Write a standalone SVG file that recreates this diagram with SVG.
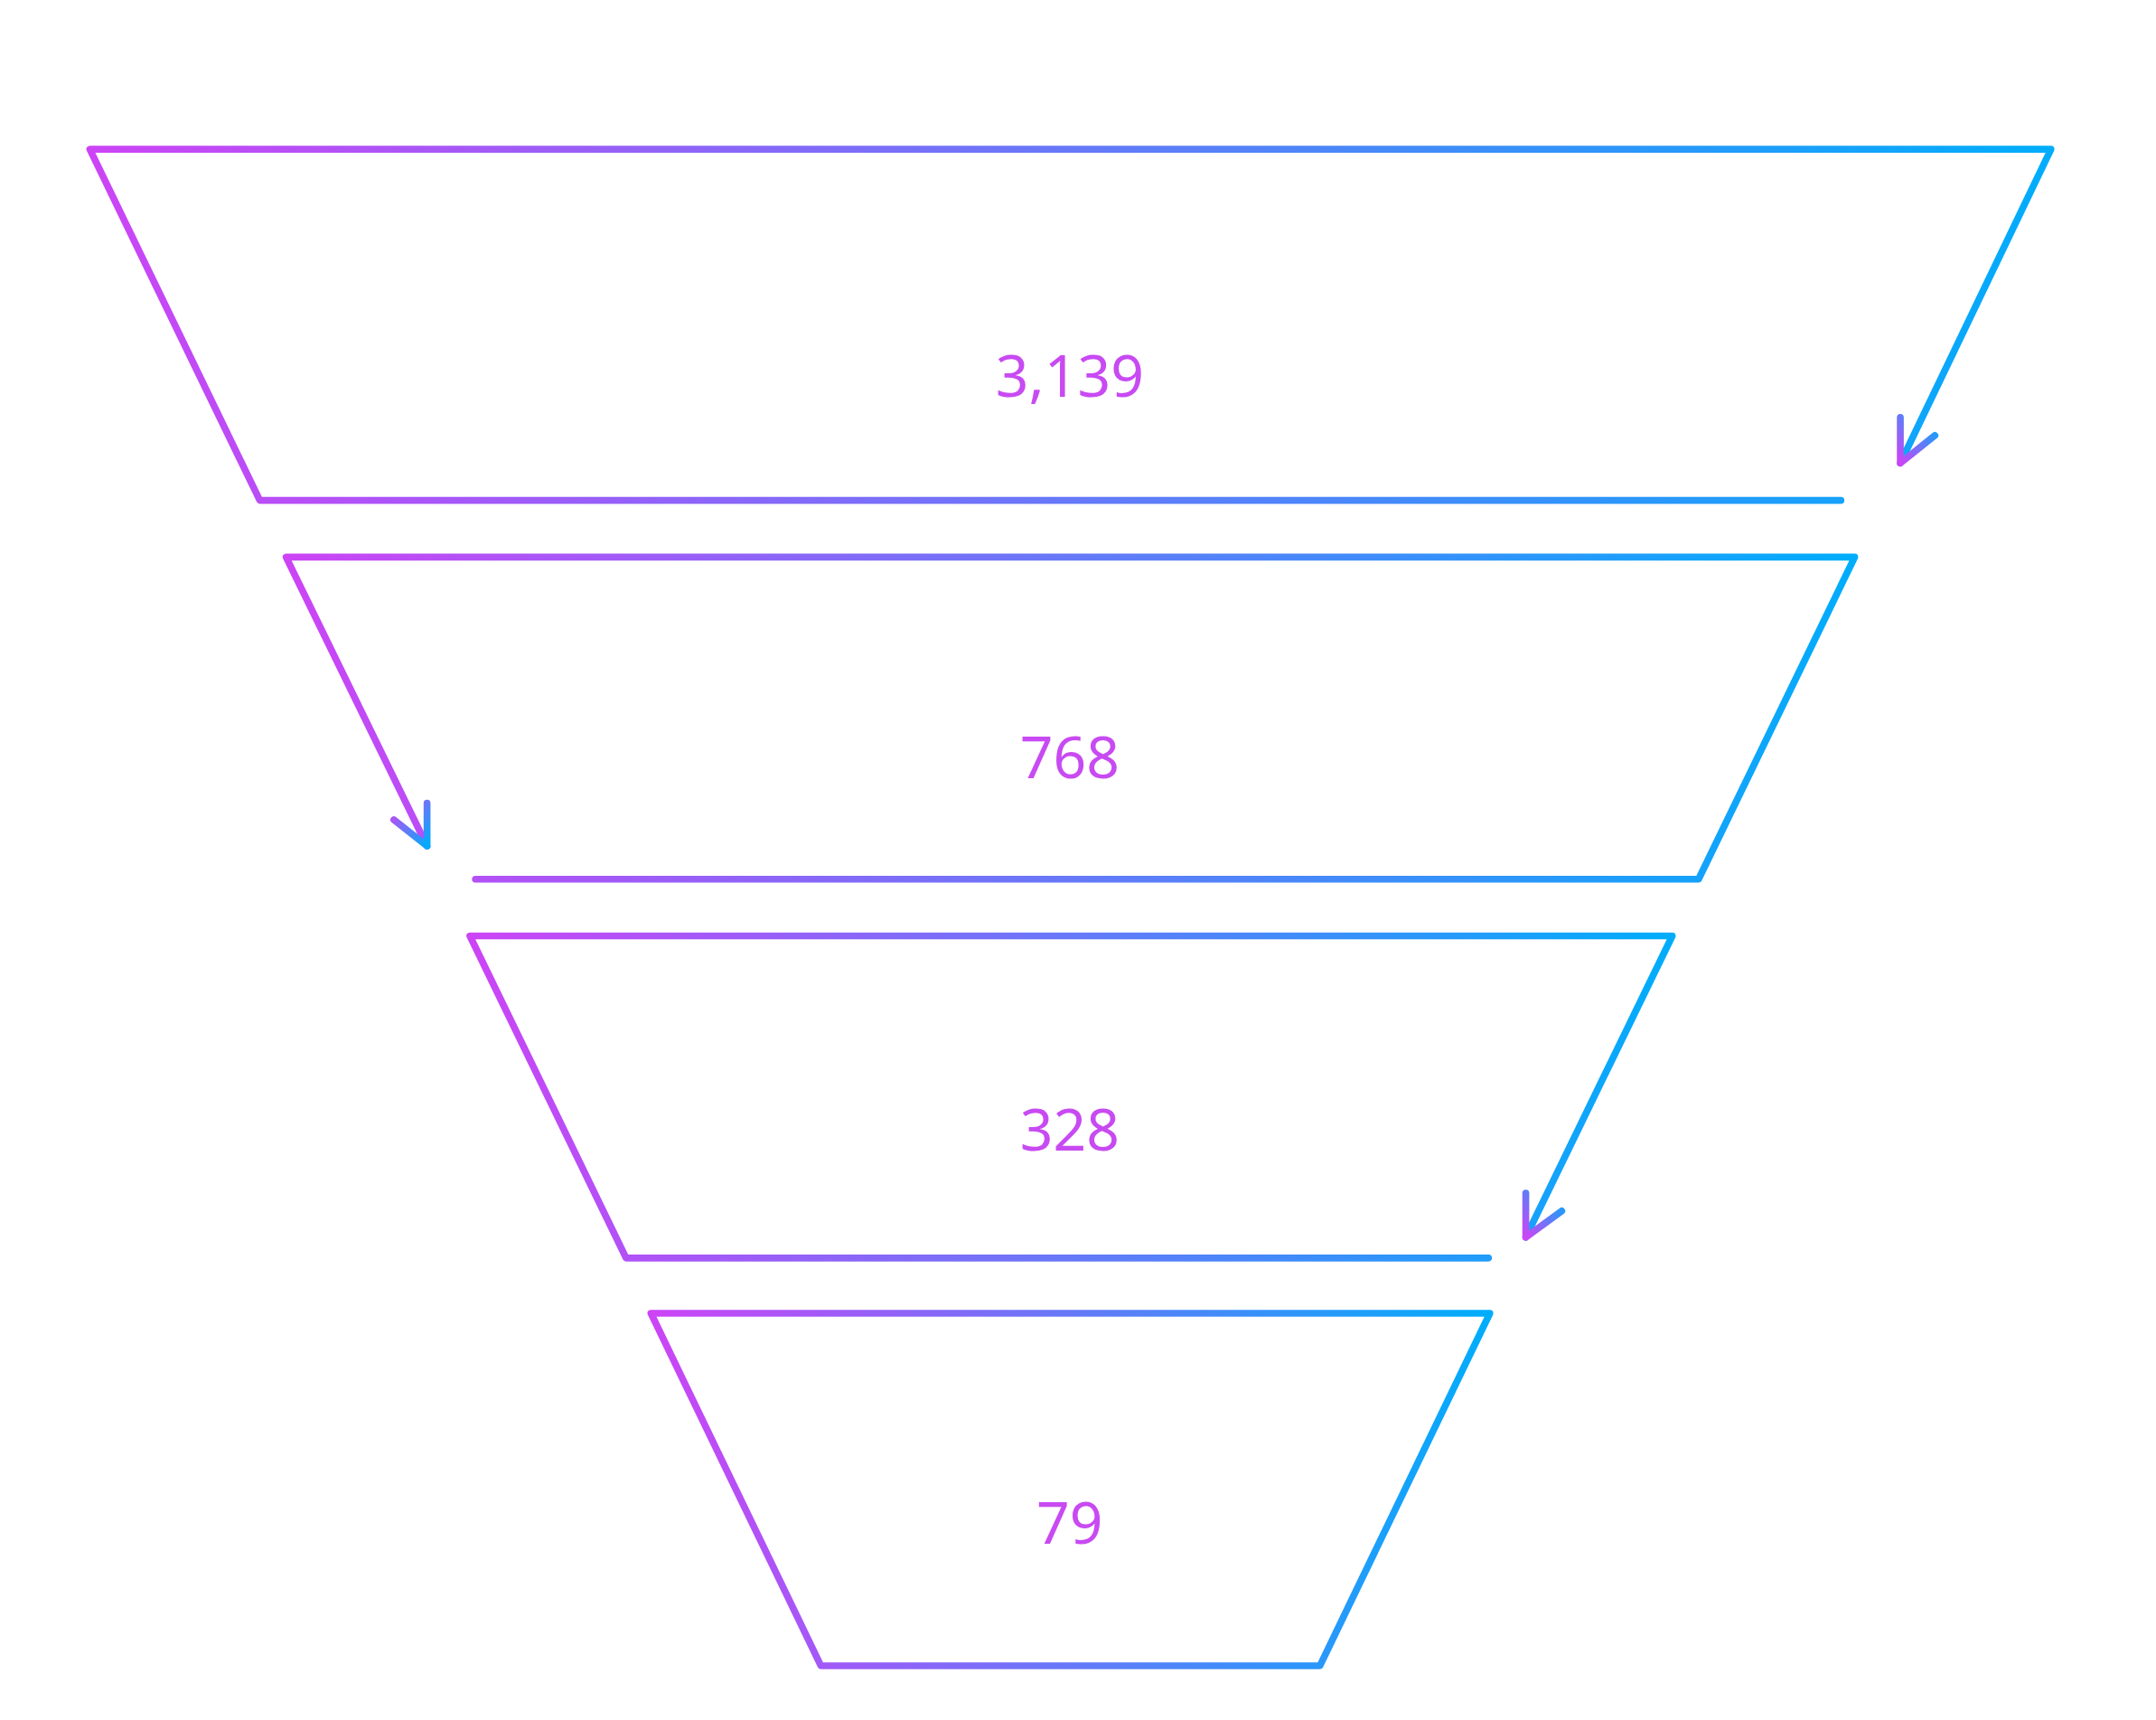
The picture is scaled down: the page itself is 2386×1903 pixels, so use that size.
<svg xmlns="http://www.w3.org/2000/svg" width="2386" height="1903" viewBox="0 0 2386 1903">
<defs>
<linearGradient id="g" x1="0" y1="0" x2="1" y2="0"><stop offset="0" stop-color="#cc44f6"/><stop offset="1" stop-color="#00adfb"/></linearGradient>
<linearGradient id="ga" x1="0" y1="1" x2="1" y2="0"><stop offset="0" stop-color="#cc44f6"/><stop offset="1" stop-color="#00adfb"/></linearGradient>
<linearGradient id="gb" x1="1" y1="1" x2="0" y2="0"><stop offset="0" stop-color="#00adfb"/><stop offset="1" stop-color="#cc44f6"/></linearGradient>
<style>.s{fill:none;stroke:url(#g);stroke-width:5;stroke-linecap:round;stroke-linejoin:round}.a{fill:none;stroke:url(#ga);stroke-width:5;stroke-linecap:round;stroke-linejoin:round}.b{fill:none;stroke:url(#gb);stroke-width:5;stroke-linecap:round;stroke-linejoin:round}.t{font-family:"Noto Sans",sans-serif;font-size:42px;fill:#c84af2;text-anchor:middle}</style>
</defs>
<rect width="2386" height="1903" fill="#fff"/>
<g transform="scale(1.5295)">
<g id="n1"><path class="s" d="M1332,362 L188,362 L65,108 L1484,108 L1375,335"/><path class="a" d="M1375,302 L1375,335 L1400,315"/><text class="t" x="774" y="287">3,139</text></g>
<g id="n2"><path class="s" d="M309,612 L207,403 L1342,403 L1229,636 L344,636"/><path class="b" d="M309,581 L309,612 L285,593"/><text class="t" x="774" y="563">768</text></g>
<g id="n3"><path class="s" d="M1077,910 L453,910 L340,677 L1210,677 L1104,895"/><path class="a" d="M1104,863 L1104,895 L1130,876"/><text class="t" x="774" y="832">328</text></g>
<g id="n4"><path class="s" d="M471,950 L1078,950 L955,1205 L594,1205 Z"/><text class="t" x="774" y="1117">79</text></g>
<g id="connectors"/>
</g>
</svg>
